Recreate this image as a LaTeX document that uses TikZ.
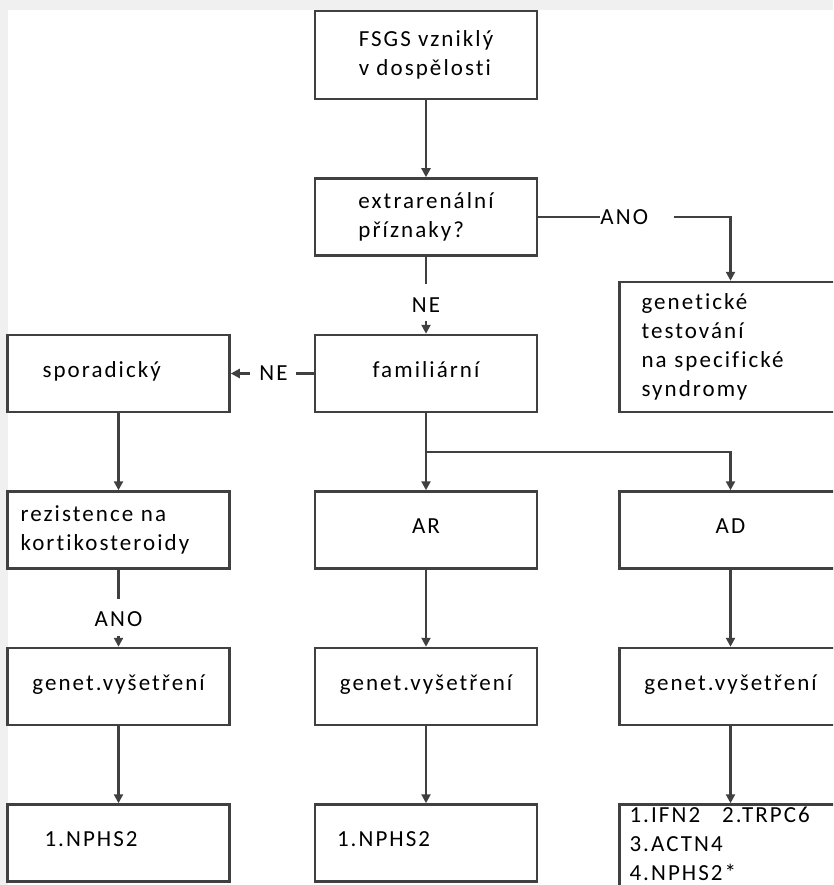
\documentclass[tikz,border=0pt]{standalone}
\usepackage{fontspec}
\setmainfont{Carlito}[LetterSpace=9, Ligatures=NoCommon]
\usetikzlibrary{arrows.meta, calc, positioning}

\begin{document}
\begin{tikzpicture}[
    x=1pt, y=-1pt,
    >={Triangle[length=9pt,width=9pt]},
    node distance=77pt and 80pt,
    box/.style={
        draw=black!75,
        line width=2.5pt,
        minimum width=222pt,
        minimum height=77pt,
        align=left,
        font=\fontsize{23}{29}\selectfont
    },
    one/.style={text height=16pt, text depth=9pt},
    lbl/.style={inner sep=0pt, font=\fontsize{23}{29}\selectfont},
    flow/.style={draw=black!75, line width=2.2pt}
]
\useasboundingbox (0,0) rectangle (833,885);
\fill[black!6] (0,0) rectangle (833,885);
\fill[white] (8,10) rectangle (833,885);
\clip (0,0) rectangle (833,885);

% middle column
\node[box, minimum height=88pt] (fsgs) at (426,55) {FSGS vzniklý\\v dospělosti};
\node[box, below=of fsgs] (extra) {extrarenální\\příznaky?};
\node[box, one, below=of extra] (famil) {familiární};
\node[box, one, below=of famil] (ar) {AR};
\node[box, one, below=of ar] (vys2) {genet.vyšetření};
\node[box, one, below=of vys2, text width=178pt, inner xsep=22pt] (res2) {1.NPHS2};

% left column
\node[box, one, left=83pt of famil, text width=152pt, inner xsep=35pt] (spor) {sporadický};
\node[box, below=of spor, text width=196pt, inner xsep=13pt] (rez) {rezistence na\\kortikosteroidy};
\node[box, one, below=of rez] (vys1) {genet.vyšetření};
\node[box, one, below=of vys1, text width=148pt, inner xsep=37pt] (res1) {1.NPHS2};

% right column
\node[box, minimum height=130pt, text width=178pt, inner xsep=22pt, anchor=south west]
    (genet) at ($(famil.south east)+(80,0)$) {genetické\\testování\\na specifické\\syndromy};
\node[box, one, right=of ar] (ad) {AD};
\node[box, one, below=of ad] (vys3) {genet.vyšetření};
\node[box, below=of vys3, minimum height=0pt, text width=202pt, inner xsep=10pt, inner ysep=2pt]
    (res3) {1.IFN2\hspace{22pt}2.TRPC6\\3.ACTN4\\4.NPHS2*\\\mbox{}};

% labels
\node[lbl, right=62pt of extra.east] (ano1) {ANO};
\node[lbl, below=41pt of extra.south] (ne1) {NE};
\node[lbl, left=26pt of famil.west] (ne2) {NE};
\node[lbl, below=42pt of rez.south] (ano2) {ANO};

\draw[flow, ->] (fsgs) -- (extra);
\draw[flow] (extra.east) -- (ano1.west);
\draw[flow, ->] ([xshift=26pt]ano1.east) -| (genet.north);
\draw[flow] (extra.south) -- ([yshift=14pt]ne1.north);
\draw[flow, ->] ([yshift=-8pt]ne1.south) -- (famil.north);
\draw[flow] (famil.west) -- ([xshift=8pt]ne2.east);
\draw[flow, ->] ([xshift=-9pt]ne2.west) -- (spor.east);
\draw[flow, ->] (spor) -- (rez);
\draw[flow] (rez.south) -- ([yshift=13pt]ano2.north);
\draw[flow, ->] ([yshift=-9pt]ano2.south) -- (vys1.north);
\draw[flow, ->] (vys1) -- (res1);
\draw[flow, ->] (famil) -- (ar);
\draw[flow, ->] ($(famil.south)!0.5!(ar.north)$) -| (ad.north);
\draw[flow, ->] (ar) -- (vys2);
\draw[flow, ->] (vys2) -- (res2);
\draw[flow, ->] (ad) -- (vys3);
\draw[flow, ->] (vys3) -- (res3);
\end{tikzpicture}
\end{document}
